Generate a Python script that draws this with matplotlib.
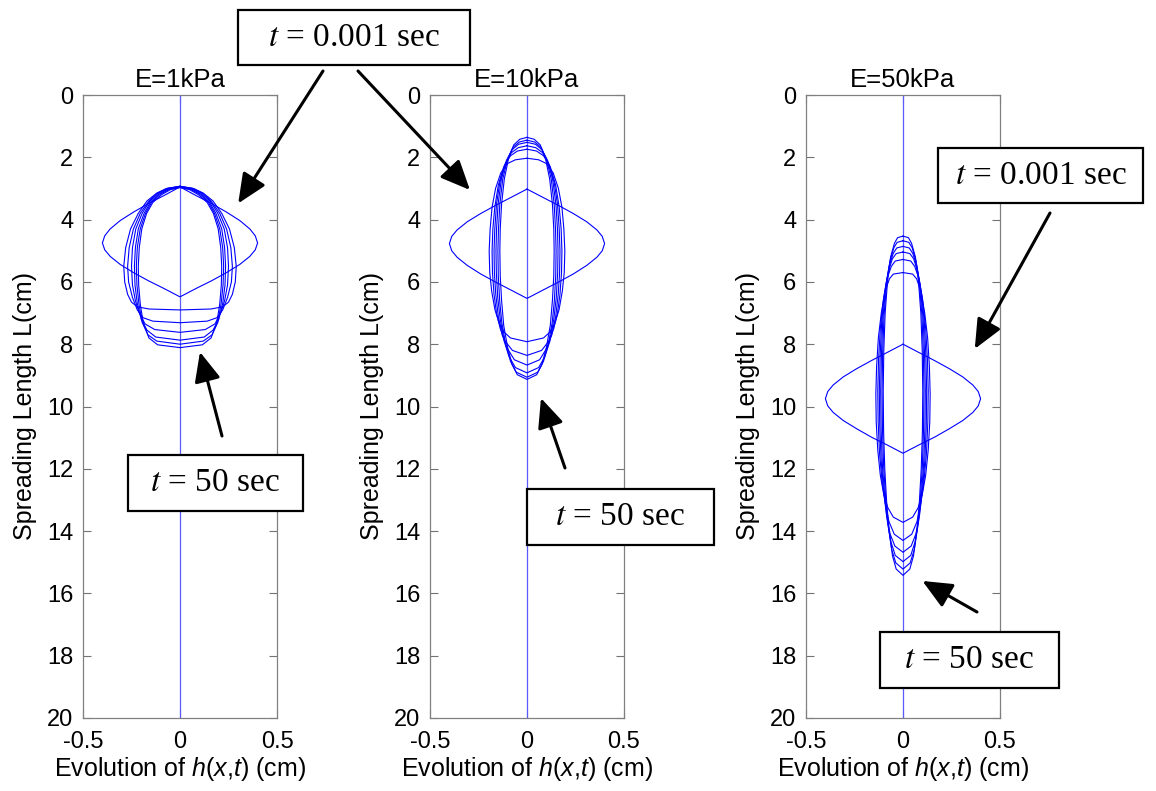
import numpy as np
import matplotlib.pyplot as plt
from matplotlib.patches import Rectangle

plt.rcParams['font.family'] = 'Liberation Sans'
plt.rcParams['axes.unicode_minus'] = False
plt.rcParams['mathtext.fontset'] = 'custom'
plt.rcParams['mathtext.rm'] = 'Liberation Sans'
plt.rcParams['mathtext.it'] = 'Liberation Sans:italic'

# ---- data: half thickness h (cm) along spreading length L (cm)
titles = ['E=1kPa', 'E=10kPa', 'E=50kPa']

# initial profile, t = 0.001 sec (same lens shape in all panels)
init_h = [0, 0.08, 0.164, 0.24, 0.308, 0.36, 0.388, 0.40,
          0.388, 0.36, 0.308, 0.24, 0.164, 0.08, 0]
e1_init_L = [2.95, 3.22, 3.49, 3.76, 4.03, 4.30, 4.52, 4.75,
             4.97, 5.18, 5.44, 5.70, 5.96, 6.22, 6.48]
e10_init_L = [3.02, 3.28, 3.55, 3.81, 4.07, 4.33, 4.54, 4.77,
              5.00, 5.21, 5.47, 5.74, 6.00, 6.27, 6.53]
e50_init_L = [8.00, 8.26, 8.53, 8.79, 9.05, 9.31, 9.52, 9.75,
              9.98, 10.19, 10.45, 10.71, 10.98, 11.24, 11.50]

# later profiles up to t = 50 sec
e1_L = [
    [2.93, 3.00, 3.15, 3.40, 3.80, 4.30, 4.90, 5.50, 6.00, 6.40, 6.65, 6.80, 6.87, 6.90],
    [2.93, 3.00, 3.15, 3.40, 3.80, 4.30, 4.90, 5.50, 6.00, 6.50, 6.90, 7.15, 7.26, 7.31],
    [2.94, 3.00, 3.15, 3.40, 3.80, 4.30, 4.90, 5.50, 6.10, 6.60, 7.00, 7.35, 7.53, 7.62],
    [2.95, 3.02, 3.17, 3.42, 3.80, 4.30, 4.90, 5.50, 6.10, 6.70, 7.20, 7.55, 7.77, 7.87],
    [2.96, 3.03, 3.18, 3.43, 3.80, 4.30, 4.90, 5.50, 6.10, 6.70, 7.30, 7.70, 7.90, 8.00],
    [2.97, 3.04, 3.20, 3.45, 3.80, 4.30, 4.90, 5.50, 6.10, 6.70, 7.30, 7.80, 8.02, 8.11],
]
e1_h = [
    [0, 0.07, 0.12, 0.17, 0.215, 0.255, 0.28, 0.29, 0.285, 0.27, 0.25, 0.22, 0.16, 0],
    [0, 0.065, 0.115, 0.16, 0.205, 0.24, 0.262, 0.27, 0.265, 0.245, 0.22, 0.19, 0.14, 0],
    [0, 0.06, 0.11, 0.155, 0.195, 0.228, 0.245, 0.25, 0.245, 0.23, 0.21, 0.18, 0.13, 0],
    [0, 0.06, 0.105, 0.15, 0.185, 0.215, 0.23, 0.235, 0.232, 0.22, 0.20, 0.17, 0.125, 0],
    [0, 0.055, 0.10, 0.145, 0.178, 0.205, 0.22, 0.225, 0.222, 0.212, 0.195, 0.165, 0.12, 0],
    [0, 0.05, 0.095, 0.14, 0.172, 0.197, 0.21, 0.215, 0.213, 0.205, 0.19, 0.16, 0.115, 0],
]

e10_L = [
    [2.03, 2.08, 2.20, 2.50, 3.00, 3.60, 4.30, 5.00, 5.70, 6.30, 6.90, 7.30, 7.60, 7.80, 7.92],
    [1.74, 1.80, 1.95, 2.30, 2.90, 3.60, 4.30, 5.00, 5.70, 6.40, 7.00, 7.50, 7.90, 8.20, 8.36],
    [1.63, 1.69, 1.85, 2.20, 2.80, 3.50, 4.30, 5.00, 5.70, 6.40, 7.10, 7.70, 8.15, 8.50, 8.67],
    [1.52, 1.58, 1.75, 2.10, 2.70, 3.50, 4.30, 5.00, 5.70, 6.50, 7.20, 7.90, 8.40, 8.75, 8.92],
    [1.45, 1.51, 1.68, 2.05, 2.70, 3.50, 4.30, 5.00, 5.80, 6.60, 7.30, 8.00, 8.55, 8.90, 9.06],
    [1.36, 1.42, 1.60, 2.00, 2.70, 3.50, 4.30, 5.00, 5.80, 6.60, 7.40, 8.10, 8.65, 8.98, 9.13],
]
e10_h = [
    [0, 0.06, 0.10, 0.135, 0.162, 0.18, 0.19, 0.195, 0.192, 0.182, 0.165, 0.145, 0.12, 0.085, 0],
    [0, 0.05, 0.085, 0.12, 0.148, 0.166, 0.176, 0.18, 0.178, 0.17, 0.157, 0.138, 0.113, 0.075, 0],
    [0, 0.045, 0.08, 0.112, 0.14, 0.157, 0.166, 0.17, 0.168, 0.161, 0.148, 0.128, 0.10, 0.065, 0],
    [0, 0.043, 0.076, 0.106, 0.132, 0.149, 0.157, 0.16, 0.158, 0.151, 0.138, 0.118, 0.092, 0.06, 0],
    [0, 0.04, 0.072, 0.10, 0.125, 0.14, 0.147, 0.15, 0.148, 0.141, 0.13, 0.11, 0.085, 0.055, 0],
    [0, 0.037, 0.068, 0.094, 0.117, 0.131, 0.138, 0.14, 0.138, 0.131, 0.12, 0.10, 0.077, 0.05, 0],
]

e50_L = [
    [5.70, 5.75, 5.90, 6.30, 7.00, 7.80, 8.70, 9.60, 10.5, 11.4, 12.2, 12.8, 13.25, 13.55, 13.72],
    [5.28, 5.33, 5.50, 5.90, 6.60, 7.50, 8.50, 9.50, 10.5, 11.5, 12.4, 13.1, 13.70, 14.10, 14.30],
    [5.04, 5.09, 5.26, 5.70, 6.40, 7.30, 8.40, 9.50, 10.6, 11.7, 12.7, 13.5, 14.10, 14.48, 14.68],
    [4.86, 4.91, 5.08, 5.50, 6.20, 7.20, 8.30, 9.50, 10.7, 11.9, 12.9, 13.7, 14.35, 14.78, 14.98],
    [4.68, 4.73, 4.90, 5.35, 6.10, 7.10, 8.30, 9.50, 10.7, 11.9, 13.0, 13.9, 14.60, 15.02, 15.22],
    [4.53, 4.58, 4.76, 5.20, 6.00, 7.00, 8.20, 9.50, 10.8, 12.0, 13.1, 14.0, 14.80, 15.22, 15.42],
]
e50_h = [
    [0, 0.05, 0.07, 0.092, 0.112, 0.127, 0.136, 0.14, 0.138, 0.13, 0.117, 0.10, 0.078, 0.05, 0],
    [0, 0.04, 0.06, 0.083, 0.102, 0.117, 0.126, 0.13, 0.128, 0.121, 0.108, 0.092, 0.072, 0.045, 0],
    [0, 0.035, 0.055, 0.077, 0.096, 0.11, 0.118, 0.122, 0.12, 0.113, 0.10, 0.085, 0.066, 0.042, 0],
    [0, 0.032, 0.05, 0.072, 0.09, 0.104, 0.111, 0.115, 0.113, 0.106, 0.094, 0.08, 0.062, 0.04, 0],
    [0, 0.03, 0.047, 0.068, 0.085, 0.098, 0.105, 0.108, 0.106, 0.10, 0.089, 0.075, 0.058, 0.037, 0],
    [0, 0.028, 0.044, 0.064, 0.08, 0.092, 0.099, 0.102, 0.10, 0.094, 0.084, 0.071, 0.054, 0.035, 0],
]

panels = [
    (e1_init_L, e1_L, e1_h),
    (e10_init_L, e10_L, e10_h),
    (e50_init_L, e50_L, e50_h),
]

W, H = 1156, 791
ax_px = [83, 430, 806]          # left edge of each axes in pixels
ax_top, ax_w, ax_h = 95, 194, 623

fig = plt.figure(figsize=(W / 100, H / 100), dpi=100)
axes = []

def profile(ax, L, h, **kw):
    L = np.asarray(L)
    h = np.asarray(h)
    ax.plot(np.r_[h, -h[::-1]], np.r_[L, L[::-1]], color='blue', lw=0.8, **kw)

for i, (iL, Ls, hs) in enumerate(panels):
    ax = fig.add_axes([ax_px[i] / W, 1 - (ax_top + ax_h) / H, ax_w / W, ax_h / H])
    axes.append(ax)
    ax.axvline(0, color='#5a5aff', lw=0.9)
    profile(ax, iL, init_h)
    for L, h in zip(Ls, hs):
        profile(ax, L, h)
    ax.set_xlim(-0.5, 0.5)
    ax.set_ylim(20, 0)
    ax.set_xticks([-0.5, 0, 0.5])
    ax.set_xticklabels(['-0.5', '0', '0.5'])
    ax.set_yticks(range(0, 21, 2))
    ax.tick_params(direction='in', length=6, width=0.8, color='0.45',
                   labelsize=17, right=True, top=True)
    ax.tick_params(axis='x', pad=9)
    ax.tick_params(axis='y', pad=7)
    for s in ax.spines.values():
        s.set_color('0.5')
        s.set_linewidth(0.9)
    ax.set_title(titles[i], fontsize=18.5, pad=6)
    ax.set_ylabel('Spreading Length L(cm)', fontsize=18, labelpad=7)
    ax.set_xlabel(r'Evolution of $h$($x$,$t$) (cm)', fontsize=18, labelpad=2)


def label_box(x0, y0, x1, y1, text):
    fig.add_artist(Rectangle((x0 / W, 1 - y1 / H), (x1 - x0) / W, (y1 - y0) / H,
                             transform=fig.transFigure, fc='white', ec='black',
                             lw=1.6, zorder=5))
    fig.text((x0 + x1) / 2 / W, 1 - (y0 + y1) / 2 / H, text, ha='center', va='center',
             fontsize=24, family='Liberation Serif', math_fontfamily='stix', zorder=6)


def arrow(ax, head, tail):
    ax.annotate('', xy=head, xycoords='data', xytext=(tail[0], H - tail[1]),
                textcoords='figure pixels',
                arrowprops=dict(arrowstyle='-|>,head_length=0.9,head_width=0.4',
                                lw=2.2, color='black', mutation_scale=20,
                                shrinkA=0, shrinkB=0))


arrow(axes[0], (0.30, 3.48), (323, 71))
arrow(axes[1], (-0.294, 3.05), (358, 71))
arrow(axes[0], (0.103, 8.25), (222, 436))
arrow(axes[1], (0.072, 9.73), (565, 468))
arrow(axes[2], (0.37, 8.15), (1050, 213))
arrow(axes[2], (0.10, 15.6), (977, 612))

label_box(238, 10, 470, 65, r'$t$ = 0.001 sec')
label_box(128, 455, 303, 511, r'$t$ = 50 sec')
label_box(527, 489, 714, 545, r'$t$ = 50 sec')
label_box(938, 148, 1143, 203, r'$t$ = 0.001 sec')
label_box(880, 632, 1059, 688, r'$t$ = 50 sec')

fig.savefig('out.png', dpi=100)
